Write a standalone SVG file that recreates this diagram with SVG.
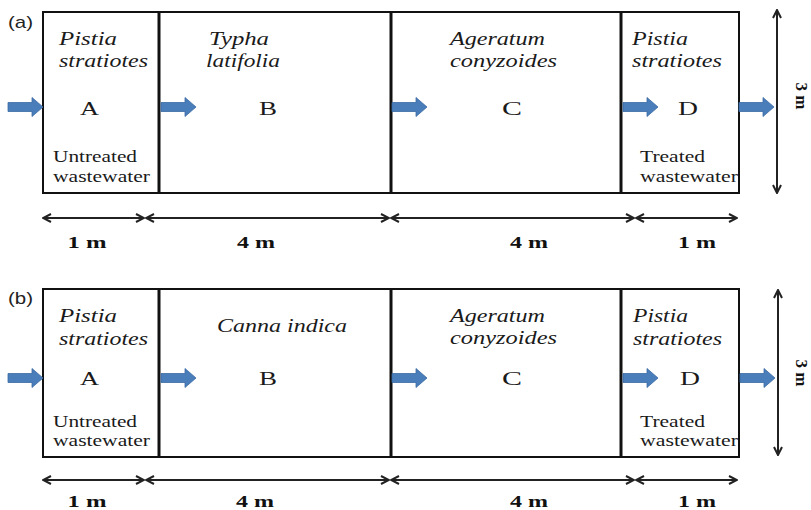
<svg xmlns="http://www.w3.org/2000/svg" width="811" height="510" viewBox="0 0 811 510">
  <defs>
    <style>
      .zone { fill: #ffffff; stroke: #111111; stroke-width: 2; }
      .divider { stroke: #111111; stroke-width: 3; }
      .sp { font-family: "Liberation Serif", "Times New Roman", serif; font-style: italic; font-size: 18px; fill: #1a1a1a; }
      .id { font-family: "Liberation Serif", "Times New Roman", serif; font-size: 19px; fill: #1a1a1a; }
      .note { font-family: "Liberation Serif", "Times New Roman", serif; font-size: 16px; fill: #1a1a1a; }
      .dimtxt { font-family: "Liberation Serif", "Times New Roman", serif; font-weight: bold; font-size: 16px; fill: #111111; }
      .vdim { font-family: "Liberation Serif", "Times New Roman", serif; font-weight: bold; font-size: 17px; fill: #111111; }
      .panel { font-family: "Liberation Sans", Arial, sans-serif; font-size: 17px; fill: #222222; }
      .dim { stroke: #222222; stroke-width: 2; fill: none; marker-start: url(#chev); marker-end: url(#chev); }
      .flow { fill: #4a7ebb; stroke: #3b6aa3; stroke-width: 0.8; }
    </style>
    <marker id="chev" viewBox="0 0 10 10" refX="9" refY="5" markerWidth="10" markerHeight="10" markerUnits="userSpaceOnUse" orient="auto-start-reverse">
      <path d="M1,1 L9,5 L1,9" fill="none" stroke="#222222" stroke-width="2"/>
    </marker>
    <!-- block arrow, 35 px long, centred on y=0 -->
    <path id="flowArrow" class="flow" d="M0,-4.5 H24 V-9.5 L35,0 L24,9.5 V4.5 H0 Z"/>
  </defs>

  <!-- ===== Panel (a) ===== -->
  <text class="panel" x="8" y="28" textLength="25" lengthAdjust="spacingAndGlyphs">(a)</text>

  <g id="a-zone-A">
    <rect class="zone" x="43" y="12" width="116" height="181"/>
    <text class="sp" x="59" y="45" textLength="58" lengthAdjust="spacingAndGlyphs">Pistia</text>
    <text class="sp" x="59" y="67" textLength="89" lengthAdjust="spacingAndGlyphs">stratiotes</text>
    <text class="id" x="80" y="115" textLength="19" lengthAdjust="spacingAndGlyphs">A</text>
    <text class="note" x="53" y="162" textLength="84" lengthAdjust="spacingAndGlyphs">Untreated</text>
    <text class="note" x="53" y="182" textLength="97" lengthAdjust="spacingAndGlyphs">wastewater</text>
  </g>
  <g id="a-zone-B">
    <rect class="zone" x="159" y="12" width="232" height="181"/>
    <text class="sp" x="209" y="45" textLength="60" lengthAdjust="spacingAndGlyphs">Typha</text>
    <text class="sp" x="206" y="67" textLength="74" lengthAdjust="spacingAndGlyphs">latifolia</text>
    <text class="id" x="259" y="115" textLength="18" lengthAdjust="spacingAndGlyphs">B</text>
  </g>
  <g id="a-zone-C">
    <rect class="zone" x="391" y="12" width="230" height="181"/>
    <text class="sp" x="450" y="45" textLength="95" lengthAdjust="spacingAndGlyphs">Ageratum</text>
    <text class="sp" x="450" y="67" textLength="107" lengthAdjust="spacingAndGlyphs">conyzoides</text>
    <text class="id" x="502" y="115" textLength="20" lengthAdjust="spacingAndGlyphs">C</text>
  </g>
  <g id="a-zone-D">
    <rect class="zone" x="621" y="12" width="118" height="181"/>
    <text class="sp" x="632" y="45" textLength="56" lengthAdjust="spacingAndGlyphs">Pistia</text>
    <text class="sp" x="632" y="67" textLength="90" lengthAdjust="spacingAndGlyphs">stratiotes</text>
    <text class="id" x="678" y="115" textLength="20" lengthAdjust="spacingAndGlyphs">D</text>
    <text class="note" x="640" y="162" textLength="65" lengthAdjust="spacingAndGlyphs">Treated</text>
    <text class="note" x="640" y="182" textLength="98" lengthAdjust="spacingAndGlyphs">wastewater</text>
  </g>
  <g id="a-dividers">
    <line class="divider" x1="159" y1="12" x2="159" y2="193"/>
    <line class="divider" x1="391" y1="12" x2="391" y2="193"/>
    <line class="divider" x1="621" y1="12" x2="621" y2="193"/>
  </g>

  <g id="a-connectors">
    <use href="#flowArrow" x="8" y="107"/>
    <use href="#flowArrow" x="161" y="107"/>
    <use href="#flowArrow" x="392" y="107"/>
    <use href="#flowArrow" x="623" y="107"/>
    <use href="#flowArrow" x="739" y="107"/>
    <line class="dim" x1="43" y1="218" x2="144" y2="218"/>
    <line class="dim" x1="146" y1="218" x2="389" y2="218"/>
    <line class="dim" x1="391" y1="218" x2="634" y2="218"/>
    <line class="dim" x1="636" y1="218" x2="737" y2="218"/>
    <line class="dim" x1="777" y1="10" x2="777" y2="193"/>
  </g>
  <g id="a-dimension-labels">
    <text class="dimtxt" x="87" y="248" text-anchor="middle" textLength="39" lengthAdjust="spacingAndGlyphs">1 m</text>
    <text class="dimtxt" x="256" y="248" text-anchor="middle" textLength="38" lengthAdjust="spacingAndGlyphs">4 m</text>
    <text class="dimtxt" x="529" y="248" text-anchor="middle" textLength="38" lengthAdjust="spacingAndGlyphs">4 m</text>
    <text class="dimtxt" x="697" y="248" text-anchor="middle" textLength="38" lengthAdjust="spacingAndGlyphs">1 m</text>
    <text class="vdim" transform="translate(796,96) rotate(90)" text-anchor="middle">3 m</text>
  </g>

  <!-- ===== Panel (b) ===== -->
  <text class="panel" x="8" y="304" textLength="25" lengthAdjust="spacingAndGlyphs">(b)</text>

  <g id="b-zone-A">
    <rect class="zone" x="43" y="289" width="116" height="168"/>
    <text class="sp" x="59" y="322" textLength="58" lengthAdjust="spacingAndGlyphs">Pistia</text>
    <text class="sp" x="59" y="345" textLength="89" lengthAdjust="spacingAndGlyphs">stratiotes</text>
    <text class="id" x="80" y="385" textLength="19" lengthAdjust="spacingAndGlyphs">A</text>
    <text class="note" x="53" y="427" textLength="84" lengthAdjust="spacingAndGlyphs">Untreated</text>
    <text class="note" x="53" y="446" textLength="97" lengthAdjust="spacingAndGlyphs">wastewater</text>
  </g>
  <g id="b-zone-B">
    <rect class="zone" x="159" y="289" width="232" height="168"/>
    <text class="sp" x="217" y="332" textLength="130" lengthAdjust="spacingAndGlyphs">Canna indica</text>
    <text class="id" x="259" y="385" textLength="18" lengthAdjust="spacingAndGlyphs">B</text>
  </g>
  <g id="b-zone-C">
    <rect class="zone" x="391" y="289" width="230" height="168"/>
    <text class="sp" x="450" y="322" textLength="95" lengthAdjust="spacingAndGlyphs">Ageratum</text>
    <text class="sp" x="450" y="344" textLength="107" lengthAdjust="spacingAndGlyphs">conyzoides</text>
    <text class="id" x="502" y="385" textLength="20" lengthAdjust="spacingAndGlyphs">C</text>
  </g>
  <g id="b-zone-D">
    <rect class="zone" x="621" y="289" width="118" height="168"/>
    <text class="sp" x="633" y="322" textLength="55" lengthAdjust="spacingAndGlyphs">Pistia</text>
    <text class="sp" x="633" y="345" textLength="89" lengthAdjust="spacingAndGlyphs">stratiotes</text>
    <text class="id" x="680" y="385" textLength="20" lengthAdjust="spacingAndGlyphs">D</text>
    <text class="note" x="640" y="427" textLength="65" lengthAdjust="spacingAndGlyphs">Treated</text>
    <text class="note" x="640" y="446" textLength="98" lengthAdjust="spacingAndGlyphs">wastewater</text>
  </g>
  <g id="b-dividers">
    <line class="divider" x1="159" y1="289" x2="159" y2="457"/>
    <line class="divider" x1="391" y1="289" x2="391" y2="457"/>
    <line class="divider" x1="621" y1="289" x2="621" y2="457"/>
  </g>

  <g id="b-connectors">
    <use href="#flowArrow" x="8" y="378"/>
    <use href="#flowArrow" x="161" y="378"/>
    <use href="#flowArrow" x="392" y="378"/>
    <use href="#flowArrow" x="623" y="378"/>
    <use href="#flowArrow" x="740" y="378"/>
    <line class="dim" x1="43" y1="480" x2="144" y2="480"/>
    <line class="dim" x1="146" y1="480" x2="389" y2="480"/>
    <line class="dim" x1="391" y1="480" x2="634" y2="480"/>
    <line class="dim" x1="636" y1="480" x2="737" y2="480"/>
    <line class="dim" x1="778" y1="290" x2="778" y2="455"/>
  </g>
  <g id="b-dimension-labels">
    <text class="dimtxt" x="87" y="507" text-anchor="middle" textLength="39" lengthAdjust="spacingAndGlyphs">1 m</text>
    <text class="dimtxt" x="255" y="507" text-anchor="middle" textLength="38" lengthAdjust="spacingAndGlyphs">4 m</text>
    <text class="dimtxt" x="529" y="507" text-anchor="middle" textLength="38" lengthAdjust="spacingAndGlyphs">4 m</text>
    <text class="dimtxt" x="697" y="507" text-anchor="middle" textLength="38" lengthAdjust="spacingAndGlyphs">1 m</text>
    <text class="vdim" transform="translate(796,373) rotate(90)" text-anchor="middle">3 m</text>
  </g>
</svg>
